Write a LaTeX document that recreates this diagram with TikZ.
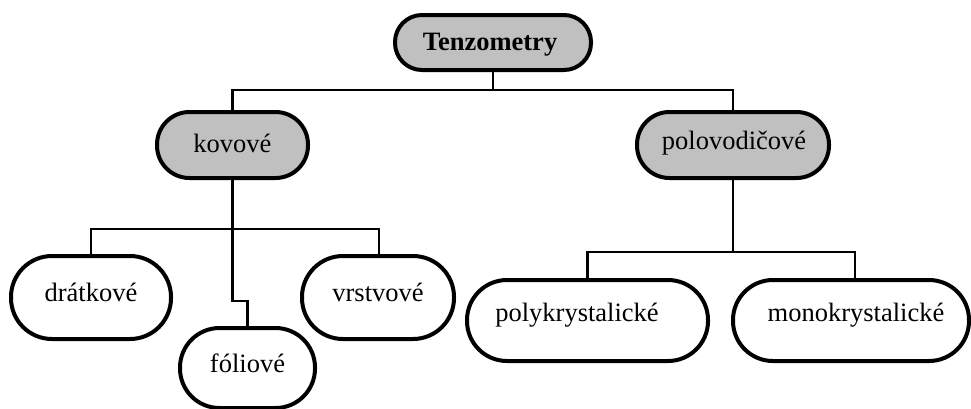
\documentclass[tikz,border=0pt]{standalone}
\usepackage{fontspec}
\setmainfont{Liberation Serif}
\definecolor{boxgray}{RGB}{192,192,192}
\begin{document}
\begin{tikzpicture}[x=1pt,y=-1pt,
  pill/.style={draw=black,line width=4pt,rounded corners=#1,inner sep=0pt,anchor=center},
  grayfill/.style={fill=boxgray},
  lbl/.style={font=\fontsize{26.5}{30}\selectfont,inner sep=0pt},
  wire/.style={draw=black,line width=2.8pt}]
\useasboundingbox (0,0) rectangle (971,408);
\clip (0,0) rectangle (971,408);
\fill[white] (0,0) rectangle (971,408);
% nodes
\node[pill=27pt,grayfill,minimum width=196pt,minimum height=55pt] (tenz) at (493,42.5) {};
\node[lbl,font=\fontsize{26.5}{30}\selectfont\bfseries] (tenzt) at (490,45) {Tenzometry};
\node[pill=32.5pt,grayfill,minimum width=151pt,minimum height=66pt] (kov) at (232.5,145) {};
\node[lbl] (kovt) at (232.5,143) {kovové};
\node[pill=32.5pt,grayfill,minimum width=192pt,minimum height=66pt] (pol) at (733,145) {};
\node[lbl] (polt) at (734,143) {polovodičové};
\node[pill=41pt,fill=white,minimum width=160pt,minimum height=83pt] (drat) at (91,297.5) {};
\node[lbl] (dratt) at (91,292) {drátkové};
\node[pill=41pt,fill=white,minimum width=152pt,minimum height=83pt] (vrst) at (378,297.5) {};
\node[lbl] (vrstt) at (378,292) {vrstvové};
\node[pill=39.5pt,fill=white,minimum width=135pt,minimum height=80pt] (fol) at (247.5,368) {};
\node[lbl] (folt) at (247.5,363) {fóliové};
\node[pill=40pt,fill=white,minimum width=241pt,minimum height=81pt] (poly) at (587.5,320.5) {};
\node[lbl] (polyt) at (577,315) {polykrystalické};
\node[pill=40pt,fill=white,minimum width=236pt,minimum height=81pt] (mono) at (851,320.5) {};
\node[lbl] (monot) at (856,315) {monokrystalické};
% connectors
\draw[wire] (tenz.south) -- ++(0,18) -| (kov.north);
\draw[wire] (tenz.south) ++(0,18) -| (pol.north);
\draw[wire] (kov.south) -- ++(0,49) -| (drat.north);
\draw[wire] (kov.south) ++(0,49) -| ([xshift=1pt]vrst.north);
\draw[wire] (kov.south) -- ++(0,121) -| (fol.north);
\draw[wire] (pol.south) -- ++(0,72) -| (poly.north);
\draw[wire] (pol.south) ++(0,72) -| ([xshift=4pt]mono.north);
\end{tikzpicture}
\end{document}
